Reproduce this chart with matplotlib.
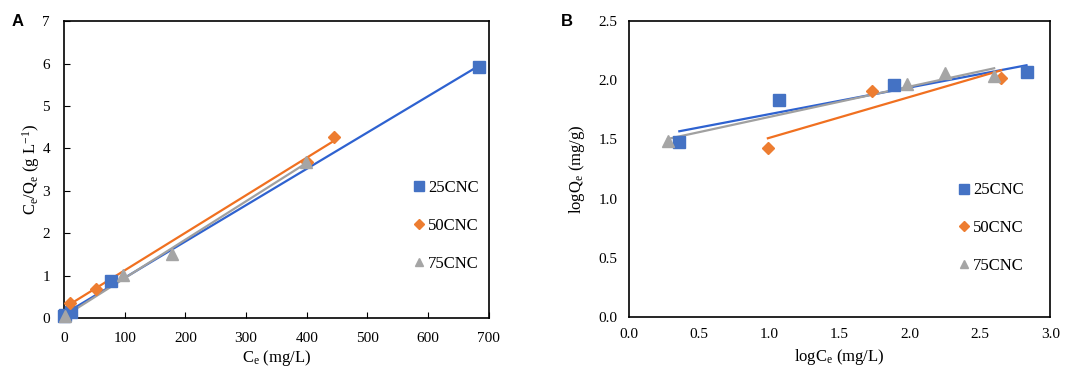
import matplotlib.pyplot as plt
import numpy as np

plt.rcParams["font.family"] = ["Liberation Serif", "DejaVu Serif"]
plt.rcParams["mathtext.fontset"] = "custom"
plt.rcParams["mathtext.rm"] = "Liberation Serif"
plt.rcParams["mathtext.it"] = "Liberation Serif:italic"

series = ["25CNC", "50CNC", "75CNC"]
markers = ["s", "D", "^"]
msizes = [9, 6, 8]
colors = ["#4472C4", "#ED7D31", "#A5A5A5"]
line_colors = ["#2E62D0", "#F07020", "#A0A0A0"]

# panel A: Langmuir, Ce vs Ce/Qe
a_ce = [
    [0, 2, 12, 77, 683],
    [10, 52, 400, 445],
    [2, 97, 178, 398],
]
a_ratio = [
    [0.05, 0.08, 0.15, 0.87, 5.93],
    [0.35, 0.68, 3.68, 4.27],
    [0.05, 1.02, 1.50, 3.68],
]

# panel B: Freundlich, logCe vs logQe
b_logce = [
    [0.36, 1.07, 1.89, 2.83],
    [0.99, 1.73, 2.65],
    [0.28, 1.98, 2.25, 2.60],
]
b_logqe = [
    [1.48, 1.83, 1.96, 2.07],
    [1.43, 1.91, 2.02],
    [1.49, 1.97, 2.06, 2.04],
]

fig = plt.figure(figsize=(10.84, 3.71), dpi=100)
axA = fig.add_axes([0.059, 0.143, 0.392, 0.800])
axB = fig.add_axes([0.580, 0.146, 0.389, 0.797])


def draw(ax, xs, ys, lx, ly):
    for i, name in enumerate(series):
        x = np.array(xs[i], dtype=float)
        y = np.array(ys[i], dtype=float)
        k, b = np.polyfit(x, y, 1)
        xl = np.array([x.min(), x.max()])
        ax.plot(xl, k * xl + b, color=line_colors[i], lw=1.6, zorder=2)
        ax.plot(x, y, linestyle="none", marker=markers[i], ms=msizes[i],
                color=colors[i], label=name, zorder=3, clip_on=False)
    ax.legend(loc="center left", bbox_to_anchor=(lx, ly), frameon=False,
              fontsize=12, handletextpad=0.05, labelspacing=1.3,
              handlelength=1.0, markerscale=0.8)
    for s in ax.spines.values():
        s.set_linewidth(1.2)


draw(axA, a_ce, a_ratio, 0.78, 0.31)
axA.set_xlim(0, 700)
axA.set_ylim(0, 7)
axA.set_xticks(range(0, 701, 100))
axA.set_yticks(range(0, 8))
axA.tick_params(direction="in", length=4, labelsize=11)
axA.tick_params(axis="x", pad=10)
axA.tick_params(axis="y", pad=10)
axA.set_xlabel("C$_\\mathregular{e}$ (mg/L)", fontsize=12, labelpad=2)
axA.set_ylabel("C$_\\mathregular{e}$/Q$_\\mathregular{e}$ (g L$^\\mathregular{-1}$)",
               fontsize=12, labelpad=0)

draw(axB, b_logce, b_logqe, 0.74, 0.30)
axB.set_xlim(0, 3.0)
axB.set_ylim(0, 2.5)
axB.set_xticks(np.arange(0, 3.01, 0.5))
axB.set_yticks(np.arange(0, 2.51, 0.5))
axB.xaxis.set_major_formatter(plt.FormatStrFormatter("%.1f"))
axB.yaxis.set_major_formatter(plt.FormatStrFormatter("%.1f"))
axB.tick_params(length=0, labelsize=11, pad=8)
axB.set_xlabel("logC$_\\mathregular{e}$ (mg/L)", fontsize=12, labelpad=4)
axB.set_ylabel("logQ$_\\mathregular{e}$ (mg/g)", fontsize=12, labelpad=8)

fig.text(0.011, 0.93, "A", fontsize=12, fontweight="bold", family="Liberation Sans")
fig.text(0.517, 0.93, "B", fontsize=12, fontweight="bold", family="Liberation Sans")

fig.savefig("out.png", dpi=100)
